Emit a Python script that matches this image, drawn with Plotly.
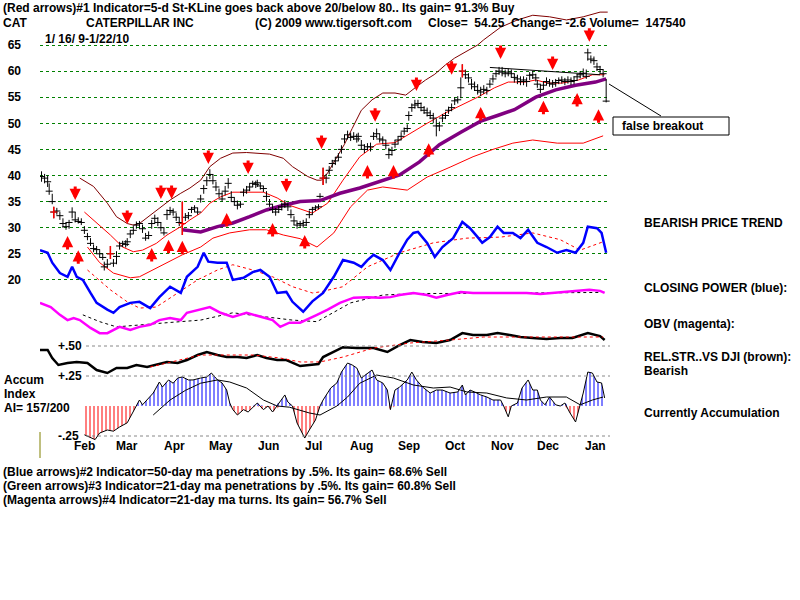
import numpy as np
import pandas as pd
import plotly.graph_objects as go

START = pd.Timestamp("2009-01-16")


def dates(days):
    return START + pd.to_timedelta(np.asarray(days, dtype=float), unit="D")


# ---------------- price bars (day offset from 1/16/09, close, high, low) ----------------
BAR_DAY = [1, 3, 5, 6, 8, 9, 11, 13, 15, 17,
           19, 21, 23, 25, 27, 29, 31, 33, 35, 37,
           39, 41, 42, 44, 46, 48, 50, 52, 54, 56,
           57, 59, 61, 63, 65, 67, 69, 71, 73, 75,
           77, 79, 81, 83, 85, 87, 89, 91, 93, 95,
           97, 99, 101, 103, 105, 107, 109, 111, 113, 115,
           117, 119, 121, 123, 125, 127, 129, 131, 133, 135,
           137, 139, 141, 142, 144, 146, 148, 150, 152, 154,
           156, 158, 160, 162, 164, 166, 168, 170, 172, 174,
           176, 178, 180, 182, 183, 185, 187, 189, 191, 193,
           195, 197, 199, 201, 203, 205, 207, 208, 210, 212,
           214, 216, 218, 220, 222, 224, 226, 228, 230, 232,
           234, 236, 238, 240, 241, 243, 245, 247, 249, 251,
           253, 255, 257, 259, 261, 263, 265, 267, 269, 271,
           273, 275, 276, 278, 280, 282, 284, 286, 288, 290,
           292, 294, 296, 298, 300, 302, 304, 306, 308, 310,
           312, 314, 316, 318, 320, 322, 324, 325, 327, 329,
           331, 333, 335, 337, 339, 341, 343, 345, 347, 349,
           351, 353, 355, 357, 358, 360, 362, 364, 366, 368, 370]
BAR_CLOSE = [39.8, 39.5, 38.8, 37.0, 35.0, 33.0, 33.2, 32.3, 30.8, 30.2,
             31.0, 33.0, 31.5, 31.2, 31.0, 29.5, 28.3, 27.0, 26.0, 25.8,
             25.0, 24.3, 22.5, 23.0, 25.0, 23.2, 24.5, 26.5, 27.0, 26.8,
             27.3, 28.8, 29.5, 30.5, 30.8, 29.8, 28.0, 28.5, 30.8, 31.8,
             31.0, 30.0, 29.0, 32.5, 33.3, 33.0, 32.0, 31.0, 30.8, 32.0,
             32.3, 33.5, 33.8, 33.0, 35.5, 37.5, 39.0, 40.2, 39.0, 37.8,
             36.5, 35.5, 37.0, 38.5, 35.8, 35.0, 34.3, 34.5, 36.8, 37.2,
             37.8, 38.5, 38.3, 38.6, 38.0, 37.5, 36.0, 34.5, 33.5, 33.0,
             33.5, 34.0, 34.5, 34.0, 32.5, 31.3, 30.5, 30.8, 30.5, 31.0,
             32.5, 33.5, 33.8, 34.0, 36.0, 39.5, 39.5, 41.0, 42.3, 42.8,
             43.5, 45.0, 47.0, 47.8, 47.3, 47.5, 47.0, 47.5, 45.8, 45.0,
             45.5, 45.5, 47.5, 48.0, 47.0, 46.8, 45.8, 44.0, 44.8, 46.0,
             46.8, 47.5, 48.5, 49.0, 51.5, 53.0, 53.5, 53.8, 53.0, 52.5,
             52.0, 51.5, 51.0, 49.5, 49.5, 51.0, 51.5, 52.5, 53.0, 54.3,
             54.5, 56.8, 60.0, 59.3, 58.7, 57.5, 57.0, 56.3, 56.0, 56.5,
             56.3, 57.5, 58.5, 59.5, 60.0, 59.8, 59.5, 59.8, 59.5, 58.8,
             58.5, 58.0, 58.3, 58.0, 59.2, 59.3, 58.7, 57.5, 56.5, 57.3,
             58.0, 57.7, 57.5, 57.8, 58.2, 58.3, 58.0, 58.3, 58.0, 58.2,
             58.9, 59.3, 59.6, 59.0, 63.5, 62.3, 62.0, 60.8, 60.3, 59.5, 54.25]
BAR_HIGH = [40.8, 40.3, 40.0, 38.5, 36.5, 34.0, 33.8, 33.0, 31.8, 31.0,
            31.5, 33.9, 33.0, 32.0, 31.8, 30.3, 29.0, 28.0, 26.8, 26.5,
            25.7, 25.0, 23.5, 24.0, 26.5, 24.0, 25.5, 27.3, 27.5, 27.6,
            28.0, 29.5, 30.3, 31.2, 31.3, 30.6, 29.0, 29.3, 31.5, 32.5,
            32.0, 31.0, 30.0, 33.5, 34.0, 33.7, 32.8, 32.0, 35.0, 32.8,
            33.0, 34.0, 34.3, 33.8, 36.3, 38.2, 39.8, 41.2, 40.2, 38.8,
            37.5, 36.8, 38.0, 39.5, 37.0, 35.8, 35.2, 35.0, 37.5, 38.0,
            38.5, 39.0, 39.0, 39.2, 38.6, 38.0, 37.0, 35.5, 34.5, 33.8,
            34.2, 34.8, 35.3, 34.8, 33.5, 32.2, 31.2, 31.3, 31.5, 31.8,
            33.3, 34.0, 34.3, 34.5, 36.6, 41.5, 40.3, 41.8, 43.0, 43.5,
            44.3, 45.8, 47.8, 48.6, 48.2, 48.3, 48.0, 48.2, 46.8, 46.0,
            46.2, 46.3, 48.3, 49.0, 48.0, 47.5, 46.8, 45.3, 45.5, 46.8,
            47.5, 48.3, 49.2, 49.8, 52.3, 53.8, 54.5, 54.5, 54.0, 53.3,
            53.0, 52.5, 52.0, 50.8, 50.3, 51.8, 52.2, 53.2, 53.8, 55.0,
            55.2, 58.8, 61.3, 60.3, 59.6, 58.5, 58.0, 57.5, 57.0, 57.3,
            57.0, 58.3, 59.3, 60.2, 60.8, 60.8, 60.3, 60.5, 60.3, 59.5,
            59.3, 59.0, 59.0, 58.8, 59.8, 60.0, 59.5, 58.3, 57.5, 58.0,
            58.8, 58.5, 58.3, 58.5, 58.8, 59.0, 58.7, 59.0, 58.8, 59.0,
            59.5, 60.0, 60.5, 60.3, 64.3, 63.0, 62.8, 61.6, 61.0, 60.3, 58.5]
BAR_LOW = [38.8, 38.5, 37.8, 36.3, 34.5, 31.8, 32.5, 31.5, 30.0, 29.6,
           29.8, 31.8, 31.0, 30.8, 30.5, 28.8, 27.6, 26.5, 25.3, 25.0,
           24.3, 23.8, 21.8, 22.3, 24.0, 22.5, 23.0, 25.8, 26.3, 26.2,
           26.5, 28.0, 28.8, 29.8, 29.8, 29.0, 27.5, 27.8, 29.8, 31.0,
           30.3, 29.3, 28.5, 31.5, 32.5, 32.3, 31.3, 30.3, 28.6, 31.3,
           31.6, 32.8, 33.0, 32.5, 34.8, 36.5, 38.0, 39.3, 38.3, 37.0,
           35.8, 35.0, 36.2, 37.5, 35.0, 34.3, 33.5, 33.8, 36.0, 36.5,
           37.0, 37.8, 37.6, 37.8, 37.3, 36.8, 35.0, 34.0, 32.8, 32.3,
           32.8, 33.3, 33.8, 33.2, 31.8, 30.5, 29.8, 30.0, 30.0, 30.3,
           31.8, 32.5, 33.2, 33.5, 35.6, 38.2, 38.5, 40.2, 41.5, 42.0,
           42.8, 44.2, 46.2, 47.0, 46.6, 46.8, 46.3, 46.5, 45.0, 44.3,
           44.8, 44.6, 46.8, 47.2, 46.3, 46.0, 45.0, 43.2, 43.8, 45.3,
           46.0, 46.8, 47.8, 48.3, 50.5, 52.2, 52.8, 53.0, 52.3, 51.8,
           51.3, 50.8, 50.0, 47.5, 48.5, 50.2, 50.8, 51.8, 52.3, 53.5,
           53.8, 54.8, 58.8, 58.5, 57.8, 56.5, 56.2, 55.5, 55.2, 55.6,
           55.5, 56.8, 57.8, 58.8, 59.3, 59.0, 58.8, 59.0, 58.8, 57.8,
           57.5, 57.3, 57.3, 57.0, 58.3, 58.5, 58.0, 56.8, 55.8, 56.5,
           57.3, 57.0, 56.8, 57.0, 57.5, 57.6, 57.3, 57.6, 57.3, 57.5,
           58.2, 58.6, 58.8, 58.5, 62.0, 61.5, 61.2, 60.0, 59.5, 58.8, 54.0]
RED_BAR_DAY = [9, 46, 93, 185, 276]

# ---------------- bands and moving averages ----------------
UPPER_DAY = [26, 35, 44, 50, 57, 61, 65, 72, 78, 85, 92, 98, 105, 111, 118, 126, 135, 144, 150, 159,
             165, 175, 181, 184, 188, 193, 199, 204, 210, 217, 224, 232, 239, 246, 252, 258, 265, 271,
             278, 286, 290, 301, 312, 322, 333, 344, 355, 366, 371]
UPPER_VAL = [39.5, 37.9, 34.7, 32.1, 30.8, 30.5, 30.8, 32.4, 33.8, 35.3, 36.6, 37.6, 39.1, 41.7, 43.3,
             44.3, 44.4, 44.3, 44.1, 43.3, 41.7, 39.8, 39.1, 39.1, 40.5, 43.0, 46.0, 49.0, 52.5, 54.5,
             55.8, 55.8, 55.4, 57.0, 58.3, 59.4, 61.2, 62.5, 63.6, 65.0, 66.0, 68.4, 69.8, 70.7, 70.4,
             69.8, 70.4, 71.3, 71.3]
MID_DAY = [29, 37, 46, 54, 61, 67, 76, 83, 92, 98, 105, 111, 118, 126, 137, 146, 155, 163, 170, 178,
           188, 198, 209, 220, 232, 242, 253, 265, 276, 286, 297, 306, 317, 324, 332, 341, 352, 361, 369]
MID_VAL = [33.0, 30.9, 28.6, 26.3, 25.4, 25.7, 27.0, 28.6, 30.2, 31.5, 32.8, 34.7, 35.9, 36.8, 36.8,
           36.8, 35.7, 34.3, 33.6, 32.8, 34.7, 39.1, 43.6, 46.0, 46.3, 48.1, 50.0, 52.0, 53.5, 55.0,
           56.8, 57.9, 57.9, 58.3, 57.7, 57.7, 58.3, 59.3, 59.3]
LOWB_DAY = [31, 39, 48, 59, 65, 74, 83, 93, 105, 113, 124, 137, 148, 159, 170, 181, 192, 203, 214, 224,
            240, 253, 268, 283, 296, 309, 322, 338, 355, 368]
LOWB_VAL = [26.3, 23.3, 21.3, 20.4, 20.6, 21.9, 23.2, 24.8, 26.3, 28.0, 29.0, 29.6, 29.6, 28.6, 27.9,
            26.3, 29.0, 34.0, 37.2, 37.8, 37.2, 39.7, 41.6, 43.6, 45.0, 46.2, 46.8, 46.2, 46.2, 47.6]
MA50_DAY = [93, 105, 116, 126, 137, 148, 159, 170, 183, 196, 209, 222, 235, 248, 261, 275, 288, 299,
            310, 324, 337, 350, 363, 370]
MA50_VAL = [29.6, 29.2, 30.2, 30.9, 32.1, 33.4, 34.3, 35.0, 35.2, 36.6, 37.6, 38.8, 40.1, 42.6, 45.9,
            48.3, 50.4, 51.5, 52.6, 55.0, 56.4, 57.3, 57.9, 58.5]
RES_DAY = [294, 366]
RES_VAL = [60.7, 59.3]

# ---------------- signal arrows ----------------
DOWN_DAY = [23, 57, 79, 86, 110, 136, 161, 184, 219, 246, 269, 301, 335, 359]
DOWN_VAL = [35.3, 30.7, 35.5, 35.5, 42.2, 40.3, 36.8, 45.1, 50.3, 56.2, 59.3, 62.3, 60.2, 65.6]
UP_DAY = [18, 25, 73, 84, 93, 122, 152, 173, 214, 231, 254, 288, 329, 351, 365]
UP_VAL = [28.4, 25.7, 26.1, 27.7, 27.5, 32.8, 30.9, 28.6, 42.0, 42.0, 46.2, 53.1, 54.3, 55.8, 52.7]

# ---------------- closing power (blue) and OBV (magenta), chart units ----------------
CP_DAY = [0, 5, 8, 13, 18, 21, 24, 28, 33, 37, 44, 48, 52, 59, 65, 72, 78, 85, 92, 96,
          103, 107, 110, 116, 122, 126, 133, 139, 144, 150, 155, 161, 165, 172, 178, 185, 192, 198, 205, 210,
          214, 218, 224, 229, 235, 240, 244, 247, 253, 258, 263, 270, 276, 281, 286, 289, 294, 299, 303, 309,
          314, 319, 325, 331, 338, 344, 350, 355, 358, 364, 367, 370]
CP_VAL = [25.7, 25.2, 23.3, 21.3, 20.6, 22.5, 20.6, 20.0, 17.5, 15.6, 14.3, 13.7, 14.8, 15.6, 15.8, 14.6,
          16.7, 18.7, 17.5, 20.6, 22.5, 25.2, 23.5, 23.3, 23.3, 20.0, 20.4, 21.5, 21.9, 20.6, 17.5, 17.7,
          15.8, 13.9, 15.9, 17.5, 20.6, 23.8, 23.3, 22.5, 23.8, 24.8, 23.8, 21.9, 25.2, 27.7, 29.0, 29.2,
          27.1, 24.4, 26.3, 28.0, 31.1, 29.9, 28.2, 27.1, 28.2, 30.2, 29.0, 29.0, 28.0, 29.6, 27.1, 26.3,
          25.2, 25.7, 25.2, 27.1, 30.2, 29.9, 29.0, 25.2]
CPMA_DAY = [31, 46, 57, 65, 76, 90, 103, 116, 126, 139, 152, 165, 178, 183, 198, 214, 235, 257, 279,
            301, 322, 340, 353, 368]
CPMA_VAL = [21.9, 18.1, 15.8, 14.6, 14.8, 17.5, 20.0, 21.9, 22.9, 21.9, 20.6, 18.7, 17.5, 17.7, 18.7,
            22.5, 25.2, 27.1, 28.0, 28.2, 29.0, 27.7, 25.7, 27.3]
OBV_DAY = [0, 7, 13, 18, 22, 26, 33, 39, 44, 48, 52, 59, 65, 72, 78, 85, 92, 96, 105, 111,
           118, 126, 135, 144, 152, 157, 163, 170, 176, 181, 188, 196, 205, 214, 222, 229, 235, 244, 253, 259,
           266, 275, 283, 292, 301, 309, 318, 327, 335, 344, 353, 359, 366, 369]
OBV_VAL = [15.6, 14.8, 13.3, 12.3, 12.7, 12.3, 10.8, 9.8, 9.8, 10.4, 11.0, 10.4, 11.0, 11.4, 12.3, 12.7,
           12.3, 13.7, 14.3, 14.8, 13.7, 12.9, 13.7, 12.9, 12.3, 11.0, 11.8, 11.8, 12.7, 13.3, 14.3, 15.6,
           16.6, 16.7, 16.6, 16.7, 17.1, 17.5, 17.1, 16.6, 17.1, 17.7, 17.5, 17.5, 17.5, 17.5, 17.5, 17.3,
           17.5, 17.7, 17.9, 18.1, 17.9, 17.5]
OBVMA_DAY = [28, 39, 50, 65, 83, 105, 126, 148, 165, 181, 190, 203, 224, 246, 279, 314, 340, 366]
OBVMA_VAL = [13.3, 12.0, 11.0, 11.4, 11.8, 12.3, 13.7, 12.9, 12.3, 12.0, 13.5, 15.6, 17.1, 17.4, 17.4,
             17.5, 17.6, 17.6]

# ---------------- relative strength vs DJI and accumulation index ----------------
RS_DAY = [0, 5, 8, 12, 18, 24, 31, 37, 44, 50, 57, 63, 70, 76, 83, 90, 96, 103, 109, 116,
          122, 129, 135, 142, 148, 155, 161, 170, 176, 182, 185, 192, 198, 207, 218, 227, 235, 242, 250, 259,
          268, 276, 283, 292, 299, 307, 314, 322, 331, 340, 348, 358, 361, 366, 369]
RS_VAL = [0.467, 0.467, 0.40, 0.342, 0.358, 0.367, 0.358, 0.30, 0.275, 0.317, 0.317, 0.342, 0.325, 0.342,
          0.367, 0.358, 0.383, 0.425, 0.45, 0.425, 0.408, 0.408, 0.40, 0.425, 0.40, 0.383, 0.383, 0.333,
          0.342, 0.35, 0.408, 0.45, 0.49, 0.483, 0.483, 0.45, 0.508, 0.55, 0.533, 0.525, 0.55, 0.608,
          0.592, 0.592, 0.608, 0.592, 0.575, 0.567, 0.558, 0.567, 0.567, 0.608, 0.60, 0.583, 0.55]
RSMA_DAY = [72, 90, 105, 122, 139, 157, 170, 183, 198, 218, 242, 268, 290, 322, 355, 368]
RSMA_VAL = [0.325, 0.383, 0.425, 0.425, 0.425, 0.40, 0.367, 0.367, 0.408, 0.483, 0.525, 0.55, 0.575,
            0.575, 0.575, 0.575]
ACC_DAY = [29, 33, 36, 39, 44, 48, 52, 57, 59, 61, 63, 65, 67, 70, 74, 78, 80, 84, 87, 90,
           93, 97, 100, 105, 109, 112, 116, 119, 122, 124, 126, 129, 133, 136, 139, 142, 146, 149, 152, 157,
           160, 162, 165, 168, 171, 173, 176, 180, 183, 185, 190, 194, 197, 201, 204, 207, 210, 214, 217, 220,
           224, 227, 229, 232, 235, 240, 243, 246, 250, 255, 259, 263, 268, 273, 276, 278, 281, 284, 288, 292,
           296, 301, 303, 306, 308, 312, 315, 319, 322, 325, 327, 330, 333, 337, 340, 343, 346, 350, 353, 355,
           358, 361, 364, 367, 369]
ACC_VAL = [-0.24, -0.26, -0.28, -0.225, -0.20, -0.21, -0.175, -0.14, -0.09, -0.05,
           0.0, 0.05, 0.01, 0.05, 0.108, 0.20, 0.158, 0.217, 0.19, 0.233,
           0.242, 0.217, 0.217, 0.233, 0.242, 0.275, 0.217, 0.192, 0.133, 0.025,
           -0.03, -0.075, -0.03, -0.05, -0.01, 0.025, -0.03, 0.0, -0.05, 0.033,
           0.092, 0.033, 0.0, -0.142, -0.225, -0.267, -0.2, -0.117, 0.0, 0.05,
           0.15, 0.192, 0.283, 0.358, 0.342, 0.317, 0.233, 0.275, 0.30, 0.217,
           0.192, 0.133, -0.03, 0.133, 0.158, 0.217, 0.283, 0.217, 0.158, 0.108,
           0.133, 0.133, 0.108, 0.117, 0.175, 0.092, 0.133, 0.117, 0.092, 0.075,
           0.05, 0.05, 0.0, -0.09, 0.0, 0.025, 0.15, 0.217, 0.133, 0.133,
           0.05, 0.01, 0.075, 0.01, 0.0, 0.025, -0.05, -0.133, 0.0, 0.108,
           0.283, 0.275, 0.20, 0.192, 0.067]
ACCMA_DAY = [74, 85, 95, 105, 116, 124, 135, 146, 155, 163, 176, 183, 194, 201, 209, 220, 231, 244, 257,
             268, 279, 292, 305, 318, 331, 344, 353, 361, 368]
ACCMA_VAL = [-0.075, 0.05, 0.13, 0.19, 0.217, 0.20, 0.15, 0.05, 0.0, -0.01, -0.058, -0.075, 0.0, 0.075,
             0.19, 0.258, 0.233, 0.175, 0.15, 0.158, 0.117, 0.108, 0.067, 0.05, 0.075, 0.075, 0.01, 0.05,
             0.075]

PRICE_TICKS = [20, 25, 30, 35, 40, 45, 50, 55, 60, 65]
ACC_TICKS = [0.50, 0.25, -0.25]
ACC_TICK_TEXT = ["+.50", "+.25", "-.25"]
MONTHS = ["Feb", "Mar", "Apr", "May", "Jun", "Jul", "Aug", "Sep", "Oct", "Nov", "Dec", "Jan"]
MONTH_DAY = [29, 57, 88, 118, 149, 179, 210, 241, 271, 302, 332, 363]

# ---------------- figure ----------------
FONT = dict(family="Liberation Sans, Arial, sans-serif", size=12, color="black", weight="bold")
W, H = 800, 600
ML, MR, MT, MB = 40, 190, 0, 140
PW, PH = W - ML - MR, H - MT - MB


def px_x(px):
    return (px - ML) / PW


def px_y(py):
    return (H - MB - py) / PH


fig = go.Figure()

close = np.array(BAR_CLOSE)
high = np.array(BAR_HIGH)
low = np.array(BAR_LOW)
bar_x = dates(BAR_DAY)


def add_line(days, vals, color, width, dash="solid", yaxis="y"):
    fig.add_trace(go.Scatter(x=dates(days), y=vals, mode="lines", yaxis=yaxis,
                             line=dict(color=color, width=width, dash=dash),
                             hoverinfo="skip"))


# bands and averages
add_line(LOWB_DAY, LOWB_VAL, "#ff0000", 1)
add_line(MID_DAY, MID_VAL, "#ff0000", 1)
add_line(UPPER_DAY, UPPER_VAL, "#800000", 1)
add_line(MA50_DAY, MA50_VAL, "#800080", 3.5)
add_line(RES_DAY, RES_VAL, "#000000", 1)

# price bars
fig.add_trace(go.Scatter(
    x=bar_x, y=close, mode="markers", hoverinfo="skip",
    marker=dict(symbol="line-ew", size=5, color="black", line=dict(width=1, color="black")),
    error_y=dict(type="data", symmetric=False, array=high - close, arrayminus=close - low,
                 width=0, thickness=1, color="black")))
red_idx = [BAR_DAY.index(d) for d in RED_BAR_DAY]
fig.add_trace(go.Scatter(
    x=bar_x[red_idx], y=close[red_idx], mode="markers", hoverinfo="skip",
    marker=dict(symbol="line-ew", size=5, color="red", line=dict(width=1, color="red")),
    error_y=dict(type="data", symmetric=False, array=(high - close)[red_idx],
                 arrayminus=(close - low)[red_idx], width=0, thickness=1.5, color="red")))

# closing power and OBV
add_line(CPMA_DAY, CPMA_VAL, "#ff0000", 1, "dot", "y3")
add_line(CP_DAY, CP_VAL, "#0000ff", 2.5, yaxis="y3")
add_line(OBVMA_DAY, OBVMA_VAL, "#000000", 1, "dot", "y3")
add_line(OBV_DAY, OBV_VAL, "#ff00ff", 2.5, yaxis="y3")

# relative strength
add_line(RS_DAY, RS_VAL, "#000000", 2.5, yaxis="y2")
add_line(RSMA_DAY, RSMA_VAL, "#ff0000", 1, "dot", "y2")

# accumulation index histogram (pattern fill)
acc = np.array(ACC_VAL)
acc_x = dates(ACC_DAY)
fig.add_trace(go.Scatter(x=acc_x, y=np.clip(acc, 0, None), yaxis="y2", mode="lines",
                         line=dict(width=0, color="#0000ff"), fill="tozeroy",
                         fillpattern=dict(shape="|", fgcolor="#0000ff", bgcolor="white",
                                          size=4, solidity=0.5),
                         hoverinfo="skip"))
fig.add_trace(go.Scatter(x=acc_x, y=np.clip(acc, None, 0), yaxis="y2", mode="lines",
                         line=dict(width=0, color="#ff0000"), fill="tozeroy",
                         fillpattern=dict(shape="|", fgcolor="#ff0000", bgcolor="white",
                                          size=4, solidity=0.5),
                         hoverinfo="skip"))
add_line(ACC_DAY, ACC_VAL, "#000000", 1, yaxis="y2")
add_line(ACCMA_DAY, ACCMA_VAL, "#000000", 1, yaxis="y2")

annotations = []
# arrows
ARROW = dict(xref="x", yref="y", text="", showarrow=True, ax=0, arrowhead=2,
             arrowsize=0.75, arrowwidth=3, arrowcolor="#ff0000")
for d, v in zip(DOWN_DAY, DOWN_VAL):
    annotations.append(dict(ARROW, x=dates([d])[0], y=v, ay=-15))
for d, v in zip(UP_DAY, UP_VAL):
    annotations.append(dict(ARROW, x=dates([d])[0], y=v, ay=15))

# month labels
for m, d in zip(MONTHS, MONTH_DAY):
    annotations.append(dict(x=dates([d])[0], y=-0.333, xref="x", yref="y2", text=m,
                            showarrow=False, font=FONT, xanchor="center", yanchor="middle"))
# accum scale labels
for v, t in zip(ACC_TICKS, ACC_TICK_TEXT):
    annotations.append(dict(x=px_x(56), y=v, xref="paper", yref="y2", text=t, showarrow=False,
                            font=FONT, xanchor="left", yanchor="middle"))


def txt(s, x, y, anchor="left"):
    annotations.append(dict(x=px_x(x), y=px_y(y), xref="paper", yref="paper", text=s,
                            showarrow=False, font=FONT, xanchor=anchor, yanchor="middle"))


txt("(Red arrows)#1 Indicator=5-d St-KLine goes back above 20/below 80.. Its gain= 91.3% Buy", 1, 8)
txt("CAT", 1, 23)
txt("CATERPILLAR INC", 84, 23)
txt("(C) 2009 www.tigersoft.com", 253, 23)
txt("Close=  54.25  Change= -2.6 Volume=  147540", 426, 23)
txt("1/ 16/ 9-1/22/10", 43, 39)
txt("Accum", 2, 380)
txt("Index", 2, 394)
txt("AI= 157/200", 2, 408)
txt("BEARISH PRICE TREND", 642, 223)
txt("CLOSING POWER (blue):", 642, 288)
txt("OBV (magenta):", 642, 324)
txt("REL.STR..VS DJI (brown):", 642, 357)
txt("Bearish", 642, 371)
txt("Currently Accumulation", 642, 413)
txt("false breakout", 620, 126)
txt("(Blue arrows)#2 Indicator=50-day ma penetrations by .5%. Its gain= 68.6% Sell", 1, 472)
txt("(Green arrows)#3 Indicator=21-day ma penetrations by .5%. Its gain= 60.8% Sell", 1, 486)
txt("(Magenta arrows)#4 Indicator=21-day ma turns. Its gain= 56.7% Sell", 1, 500)

shapes = []
for v in ACC_TICKS:
    shapes.append(dict(type="line", xref="paper", yref="y2", x0=px_x(86), x1=1, y0=v, y1=v,
                       line=dict(color="#888888", width=1, dash="dot")))
shapes.append(dict(type="rect", xref="paper", yref="paper", x0=px_x(613), x1=px_x(729),
                   y0=px_y(135), y1=px_y(117), line=dict(color="black", width=1)))
shapes.append(dict(type="line", xref="paper", yref="paper", x0=px_x(609), y0=px_y(84),
                   x1=px_x(661), y1=px_y(116), line=dict(color="black", width=1)))
shapes.append(dict(type="line", xref="paper", yref="paper", x0=px_x(40), y0=px_y(458),
                   x1=px_x(40), y1=px_y(432), line=dict(color="#808000", width=1)))

# axis ranges derived from the chart's pixel layout
price_per_px = 5.0 / 26.1
p_top = 65 + 45 * price_per_px
p_bot = 65 - (PH - 45) * price_per_px
acc_per_px = 0.25 / 30.0
a_top = 406 * acc_per_px
a_bot = -(PH - 406) * acc_per_px

fig.update_layout(
    width=W, height=H, autosize=False,
    margin=dict(l=ML, r=MR, t=MT, b=MB, pad=0),
    paper_bgcolor="white", plot_bgcolor="white",
    showlegend=False, font=FONT,
    xaxis=dict(type="date", range=[START, START + pd.Timedelta(days=372.5)],
               showgrid=False, zeroline=False, showticklabels=False, showline=False, ticks=""),
    yaxis=dict(range=[p_bot, p_top], tickvals=PRICE_TICKS, ticktext=[str(t) for t in PRICE_TICKS],
               showgrid=True, gridcolor="#008000", griddash="dot", gridwidth=1,
               zeroline=False, showline=False, ticks="", tickfont=FONT, ticklabelstandoff=18),
    yaxis2=dict(range=[a_bot, a_top], overlaying="y", visible=False),
    yaxis3=dict(range=[p_bot, p_top], overlaying="y", visible=False),
    annotations=annotations,
    shapes=shapes,
)

fig.write_html("out.html", config={"displayModeBar": False, "staticPlot": True})
